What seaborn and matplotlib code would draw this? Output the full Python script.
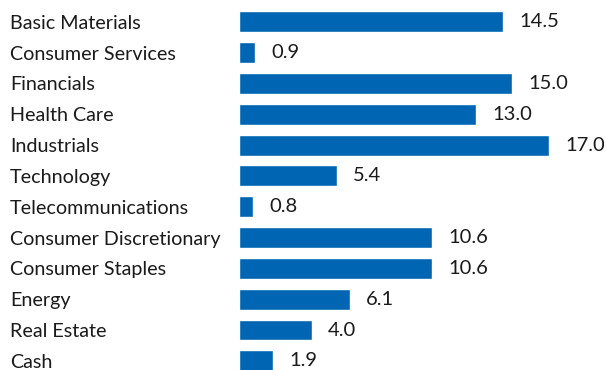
import matplotlib
matplotlib.use("Agg")
import matplotlib.pyplot as plt
import seaborn as sns
import pandas as pd

categories = ["Basic Materials", "Consumer Services", "Financials", "Health Care",
              "Industrials", "Technology", "Telecommunications",
              "Consumer Discretionary", "Consumer Staples", "Energy",
              "Real Estate", "Cash"]
values = [14.5, 0.9, 15.0, 13.0, 17.0, 5.4, 0.8, 10.6, 10.6, 6.1, 4.0, 1.9]

df = pd.DataFrame({"category": categories, "value": values})

sns.set_theme(style="white")
plt.rcParams["font.family"] = ["Lato", "DejaVu Sans"]

W, H = 606, 370
fig = plt.figure(figsize=(W / 100, H / 100), dpi=100)
left_px = 238.5
px_per_unit = 18.26
row_px = 30.82
first_px = 21.8
ax = fig.add_axes([left_px / W, 0, (W - left_px) / W, 1])

color = "#0066B3"
sns.barplot(data=df, y="category", x="value", orient="h", color=color,
            width=0.68, saturation=1, ax=ax)

ax.set_xlim(0, (W - left_px) / px_per_unit)
ax.set_ylim((H - first_px) / row_px, -first_px / row_px)

for i, v in enumerate(values):
    ax.text(v + 16 / px_per_unit, i, f"{v:.1f}", va="center", ha="left",
            fontsize=14.5, color="#1a1a1a")

ax.set_xlabel("")
ax.set_ylabel("")
ax.set_xticks([])
ax.tick_params(axis="y", length=0, pad=(left_px - 10) * 72 / 100)
for lbl in ax.get_yticklabels():
    lbl.set_horizontalalignment("left")
    lbl.set_fontsize(14.2)
    lbl.set_color("#1a1a1a")
for s in ax.spines.values():
    s.set_visible(False)

fig.savefig("out.png", dpi=100)
